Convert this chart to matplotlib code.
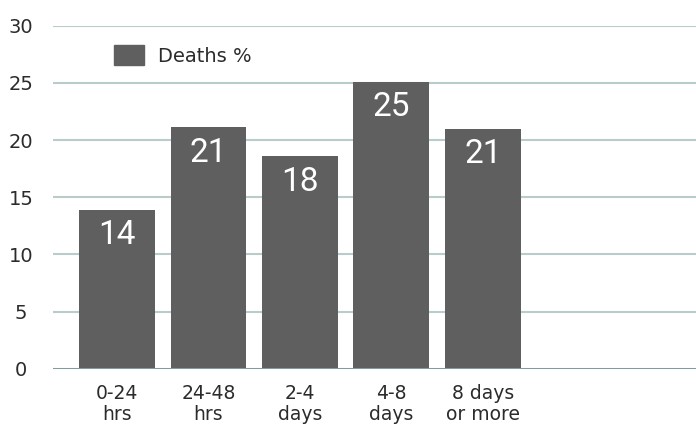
import matplotlib
matplotlib.use("Agg")
import matplotlib.pyplot as plt
from matplotlib.patches import Patch

categories = ["0-24\nhrs", "24-48\nhrs", "2-4\ndays", "4-8\ndays", "8 days\nor more"]
values = [13.9, 21.1, 18.6, 25.1, 21.0]
value_labels = ["14", "21", "18", "25", "21"]
yticks = [0, 5, 10, 15, 20, 25, 30]
series_name = "Deaths %"

BAR = "#5f5f5f"
GRID = "#b9cccb"
ZERO = "#7f9f9e"
TXT = "#2b2b2b"

W, H = 696, 429
fig = plt.figure(figsize=(W / 100, H / 100), dpi=100)
left, right = 53 / W, 1.0
bottom = (H - 368.7) / H
top = (H - 25.7) / H
ax = fig.add_axes([left, bottom, right - left, top - bottom])

x = list(range(len(categories)))
ax.bar(x, values, width=0.83, color=BAR, zorder=3)
ax.set_xlim(-0.70, 6.33)
ax.set_ylim(0, 30)

for xi, v, lab in zip(x, values, value_labels):
    ax.annotate(lab, (xi, v), xytext=(0, -7), textcoords="offset points",
                ha="center", va="top", color="white", fontsize=24,
                family="Roboto", fontweight="normal", zorder=4)

ax.set_yticks(yticks)
ax.set_yticklabels([str(t) for t in yticks])
for lab in ax.get_yticklabels():
    lab.set_horizontalalignment("center")
ax.tick_params(axis="y", length=0, pad=23, labelsize=14, labelcolor=TXT)
ax.set_xticks(x)
ax.set_xticklabels(categories, linespacing=1.15)
ax.tick_params(axis="x", length=0, pad=11, labelsize=13.5, labelcolor=TXT)

for t in yticks[1:]:
    ax.axhline(t, color=GRID, lw=1.5, zorder=1)
ax.axhline(0, color=ZERO, lw=2.2, zorder=5)

for s in ax.spines.values():
    s.set_visible(False)

leg = ax.legend(handles=[Patch(color=BAR, label=series_name)], loc="upper left",
                bbox_to_anchor=((114 - 53) / 643, (368.7 - 45) / 343),
                frameon=False, fontsize=14, handlelength=1.55, handleheight=1.2,
                handletextpad=0.7, borderaxespad=0, borderpad=0)
for t in leg.get_texts():
    t.set_color(TXT)

fig.savefig("out.png", dpi=100)
